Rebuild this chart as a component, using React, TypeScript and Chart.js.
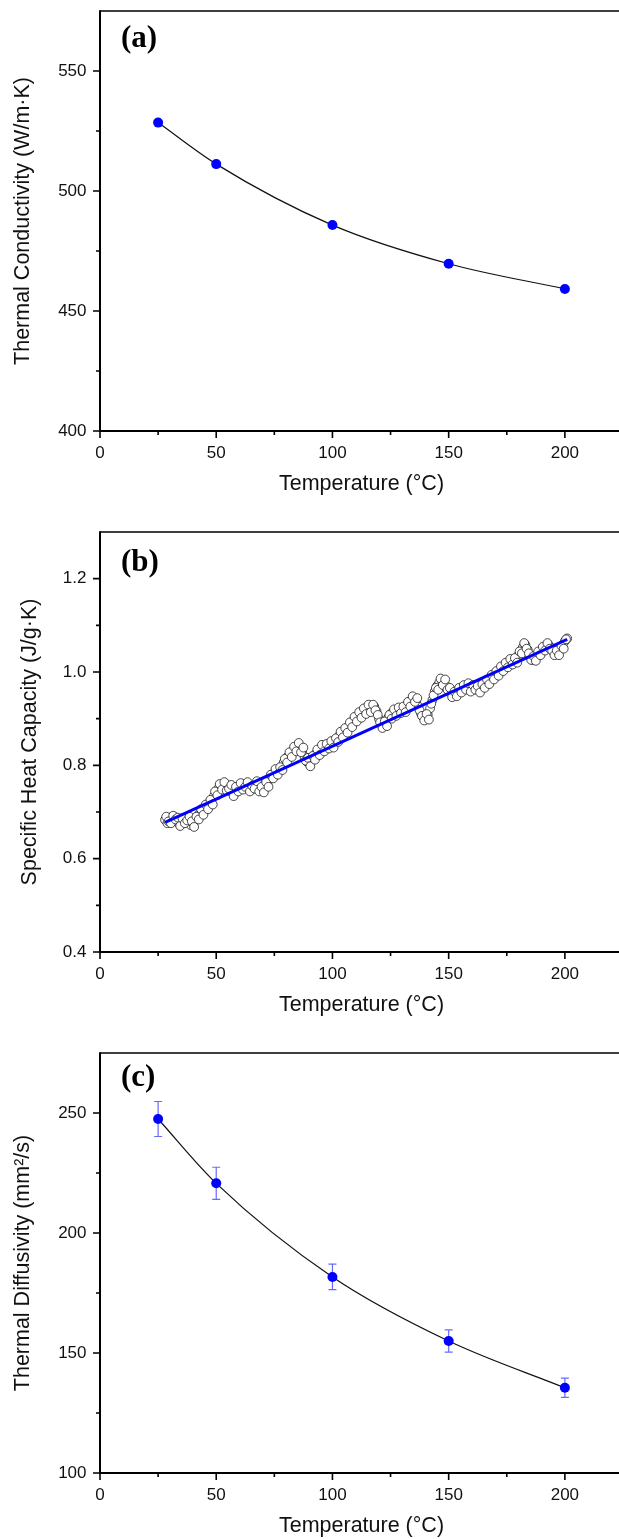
import React, { useEffect, useRef } from 'react';
import { Chart, registerables } from 'chart.js';

Chart.register(...registerables);

const FONT_SANS = '"Liberation Sans", Arial, sans-serif';
const FONT_SERIF = '"Liberation Serif", "Times New Roman", serif';

// ---- shared x axis ----
const xTitle = 'Temperature (°C)';
const xMajorTicks = [0, 50, 100, 150, 200];
const xMinorTicks = [25, 75, 125, 175];

// ---- panel (a): thermal conductivity ----
const tempA = [25, 50, 100, 150, 200];
const conductivity = [528.5, 511.2, 485.8, 469.7, 459.2];
const yMajorA = [400, 450, 500, 550];
const yMinorA = [425, 475, 525];

// ---- panel (b): specific heat capacity (measured points) ----
const tempB = [
  28, 29, 30, 31, 32, 33, 34, 35, 36, 37,
  38, 39, 40, 41, 42, 43, 44, 45, 46, 47,
  48, 49, 50, 51, 52, 53, 54, 55, 56, 57,
  58, 59, 60, 61, 62, 63, 64, 65, 66, 67,
  68, 69, 70, 71, 72, 73, 74, 75, 76, 77,
  78, 79, 80, 81, 82, 83, 84, 85, 86, 87,
  88, 89, 90, 91, 92, 93, 94, 95, 96, 97,
  98, 99, 100, 101, 102, 103, 104, 105, 106, 107,
  108, 109, 110, 111, 112, 113, 114, 115, 116, 117,
  118, 119, 120, 121, 122, 123, 124, 125, 126, 127,
  128, 129, 130, 131, 132, 133, 134, 135, 136, 137,
  138, 139, 140, 141, 142, 143, 144, 145, 146, 147,
  148, 149, 150, 151, 152, 153, 154, 155, 156, 157,
  158, 159, 160, 161, 162, 163, 164, 165, 166, 167,
  168, 169, 170, 171, 172, 173, 174, 175, 176, 177,
  178, 179, 180, 181, 182, 183, 184, 185, 186, 187,
  188, 189, 190, 191, 192, 193, 194, 195, 196, 197,
  198, 199, 200, 201,
];
const heatCapacity = [
  0.683, 0.676, 0.688, 0.684, 0.690, 0.680, 0.675, 0.678, 0.684, 0.689,
  0.679, 0.672, 0.676, 0.684, 0.692, 0.697, 0.701, 0.708, 0.714, 0.718,
  0.724, 0.734, 0.742, 0.751, 0.756, 0.758, 0.754, 0.757, 0.749, 0.740,
  0.745, 0.752, 0.756, 0.754, 0.760, 0.758, 0.752, 0.748, 0.756, 0.760,
  0.752, 0.746, 0.749, 0.756, 0.762, 0.772, 0.780, 0.784, 0.790, 0.788,
  0.796, 0.806, 0.814, 0.820, 0.826, 0.832, 0.838, 0.842, 0.836, 0.828,
  0.818, 0.808, 0.804, 0.812, 0.820, 0.826, 0.830, 0.836, 0.840, 0.836,
  0.842, 0.846, 0.843, 0.850, 0.858, 0.864, 0.868, 0.872, 0.878, 0.884,
  0.890, 0.896, 0.902, 0.906, 0.910, 0.914, 0.918, 0.922, 0.924, 0.920,
  0.926, 0.916, 0.900, 0.888, 0.884, 0.892, 0.902, 0.910, 0.914, 0.912,
  0.916, 0.920, 0.918, 0.922, 0.928, 0.934, 0.940, 0.944, 0.938, 0.926,
  0.912, 0.904, 0.900, 0.908, 0.922, 0.940, 0.958, 0.970, 0.978, 0.982,
  0.976, 0.970, 0.960, 0.954, 0.950, 0.956, 0.958, 0.962, 0.964, 0.970,
  0.968, 0.962, 0.966, 0.970, 0.964, 0.960, 0.966, 0.972, 0.976, 0.980,
  0.986, 0.990, 0.994, 0.998, 1.004, 1.008, 1.012, 1.016, 1.020, 1.024,
  1.022, 1.028, 1.036, 1.046, 1.054, 1.058, 1.048, 1.034, 1.026, 1.030,
  1.036, 1.040, 1.046, 1.052, 1.056, 1.058, 1.052, 1.044, 1.040, 1.042,
  1.050, 1.058, 1.066, 1.072,
];
const tempBHalf = [
  28.5, 29.5, 30.5, 31.5, 32.5, 33.5, 34.5, 35.5, 36.5, 37.5,
  38.5, 39.5, 40.5, 41.5, 42.5, 43.5, 44.5, 45.5, 46.5, 47.5,
  48.5, 49.5, 50.5, 51.5, 52.5, 53.5, 54.5, 55.5, 56.5, 57.5,
  58.5, 59.5, 60.5, 61.5, 62.5, 63.5, 64.5, 65.5, 66.5, 67.5,
  68.5, 69.5, 70.5, 71.5, 72.5, 73.5, 74.5, 75.5, 76.5, 77.5,
  78.5, 79.5, 80.5, 81.5, 82.5, 83.5, 84.5, 85.5, 86.5, 87.5,
  88.5, 89.5, 90.5, 91.5, 92.5, 93.5, 94.5, 95.5, 96.5, 97.5,
  98.5, 99.5, 100.5, 101.5, 102.5, 103.5, 104.5, 105.5, 106.5, 107.5,
  108.5, 109.5, 110.5, 111.5, 112.5, 113.5, 114.5, 115.5, 116.5, 117.5,
  118.5, 119.5, 120.5, 121.5, 122.5, 123.5, 124.5, 125.5, 126.5, 127.5,
  128.5, 129.5, 130.5, 131.5, 132.5, 133.5, 134.5, 135.5, 136.5, 137.5,
  138.5, 139.5, 140.5, 141.5, 142.5, 143.5, 144.5, 145.5, 146.5, 147.5,
  148.5, 149.5, 150.5, 151.5, 152.5, 153.5, 154.5, 155.5, 156.5, 157.5,
  158.5, 159.5, 160.5, 161.5, 162.5, 163.5, 164.5, 165.5, 166.5, 167.5,
  168.5, 169.5, 170.5, 171.5, 172.5, 173.5, 174.5, 175.5, 176.5, 177.5,
  178.5, 179.5, 180.5, 181.5, 182.5, 183.5, 184.5, 185.5, 186.5, 187.5,
  188.5, 189.5, 190.5, 191.5, 192.5, 193.5, 194.5, 195.5, 196.5, 197.5,
  198.5, 199.5, 200.5,
];
const heatCapacityHalf = [
  0.690, 0.680, 0.676, 0.692, 0.684, 0.688, 0.670, 0.686, 0.676, 0.682,
  0.690, 0.680, 0.668, 0.690, 0.684, 0.706, 0.694, 0.716, 0.706, 0.726,
  0.716, 0.744, 0.736, 0.760, 0.748, 0.764, 0.746, 0.750, 0.758, 0.734,
  0.754, 0.744, 0.762, 0.748, 0.754, 0.764, 0.744, 0.756, 0.750, 0.766,
  0.744, 0.754, 0.742, 0.764, 0.754, 0.780, 0.772, 0.792, 0.780, 0.796,
  0.790, 0.814, 0.806, 0.828, 0.818, 0.840, 0.830, 0.848, 0.828, 0.838,
  0.810, 0.816, 0.798, 0.820, 0.812, 0.834, 0.822, 0.844, 0.830, 0.846,
  0.836, 0.852, 0.838, 0.858, 0.850, 0.872, 0.860, 0.880, 0.870, 0.892,
  0.882, 0.904, 0.894, 0.914, 0.902, 0.922, 0.910, 0.930, 0.914, 0.930,
  0.918, 0.908, 0.892, 0.880, 0.894, 0.884, 0.908, 0.900, 0.920, 0.906,
  0.924, 0.912, 0.926, 0.914, 0.936, 0.926, 0.948, 0.936, 0.944, 0.918,
  0.906, 0.896, 0.910, 0.898, 0.932, 0.950, 0.966, 0.962, 0.986, 0.972,
  0.984, 0.962, 0.966, 0.946, 0.958, 0.948, 0.966, 0.956, 0.972, 0.962,
  0.976, 0.958, 0.972, 0.962, 0.970, 0.956, 0.974, 0.966, 0.984, 0.974,
  0.994, 0.984, 1.002, 0.992, 1.012, 1.002, 1.020, 1.010, 1.028, 1.016,
  1.030, 1.020, 1.044, 1.040, 1.062, 1.050, 1.040, 1.026, 1.034, 1.024,
  1.044, 1.036, 1.054, 1.046, 1.062, 1.050, 1.046, 1.036, 1.046, 1.036,
  1.056, 1.050, 1.070,
];
// linear fit line
const fitTempB = [28, 201];
const fitHeatCapacity = [0.678, 1.07];
const yMajorB = [0.4, 0.6, 0.8, 1.0, 1.2];
const yMinorB = [0.5, 0.7, 0.9, 1.1];

// ---- panel (c): thermal diffusivity ----
const tempC = [25, 50, 100, 150, 200];
const diffusivity = [247.5, 220.7, 181.7, 155.0, 135.5];
const diffusivityErr = [7.3, 6.7, 5.3, 4.6, 4.0];
const yMajorC = [100, 150, 200, 250];
const yMinorC = [125, 175, 225];

const CANVAS_W = 623;
const CANVAS_H = 521;

type PanelSpec = {
  label: string;
  labelY: number;
  yTitle: string;
  yTitlePad: number;
  yMin: number;
  yMax: number;
  yMajor: number[];
  yMinor: number[];
  yDecimals: number;
  datasets: any[];
  extraPlugins?: any[];
};

function buildConfig(p: PanelSpec): any {
  const framePlugin = {
    id: 'frame',
    afterDraw(chart: any) {
      const { ctx, chartArea, scales } = chart;
      const { left, right, top, bottom } = chartArea;
      const xs = scales.x;
      const ys = scales.y;
      ctx.save();
      ctx.strokeStyle = '#000';
      ctx.lineCap = 'butt';
      ctx.lineWidth = 1.4;
      ctx.beginPath();
      ctx.moveTo(left, top);
      ctx.lineTo(right, top);
      ctx.moveTo(right - 0.7, top);
      ctx.lineTo(right - 0.7, bottom);
      ctx.stroke();
      ctx.lineWidth = 2;
      ctx.beginPath();
      ctx.moveTo(left, top - 0.7);
      ctx.lineTo(left, bottom + 1);
      ctx.moveTo(left - 1, bottom);
      ctx.lineTo(right, bottom);
      ctx.stroke();
      ctx.lineWidth = 1.6;
      ctx.beginPath();
      xMajorTicks.forEach((v) => {
        const px = xs.getPixelForValue(v);
        ctx.moveTo(px, bottom);
        ctx.lineTo(px, bottom + 7);
      });
      xMinorTicks.forEach((v) => {
        const px = xs.getPixelForValue(v);
        ctx.moveTo(px, bottom);
        ctx.lineTo(px, bottom + 4);
      });
      p.yMajor.forEach((v) => {
        const py = ys.getPixelForValue(v);
        ctx.moveTo(left, py);
        ctx.lineTo(left - 7, py);
      });
      p.yMinor.forEach((v) => {
        const py = ys.getPixelForValue(v);
        ctx.moveTo(left, py);
        ctx.lineTo(left - 4, py);
      });
      ctx.stroke();
      ctx.fillStyle = '#000';
      ctx.font = `bold 31px ${FONT_SERIF}`;
      ctx.textAlign = 'left';
      ctx.textBaseline = 'alphabetic';
      ctx.fillText(p.label, 121, p.labelY);
      ctx.restore();
    },
  };

  return {
    type: 'scatter',
    data: { datasets: p.datasets },
    options: {
      responsive: false,
      animation: false,
      devicePixelRatio: 1,
      events: [],
      layout: { autoPadding: false, padding: { top: 11, left: 0, right: 0, bottom: 0 } },
      plugins: { legend: { display: false }, tooltip: { enabled: false } },
      scales: {
        x: {
          type: 'linear',
          position: 'bottom',
          min: 0,
          max: 225,
          afterBuildTicks: (s: any) => {
            s.ticks = xMajorTicks.map((v) => ({ value: v }));
          },
          afterFit: (s: any) => {
            s.height = 90;
            s.paddingLeft = 0;
            s.paddingRight = 0;
            s.paddingTop = 0;
            s.paddingBottom = 0;
          },
          grid: { display: false, drawTicks: false },
          border: { display: false },
          ticks: {
            font: { family: FONT_SANS, size: 17 },
            color: '#111',
            padding: 12,
            maxRotation: 0,
            autoSkip: false,
            callback: (v: any) => String(v),
          },
          title: {
            display: true,
            text: xTitle,
            font: { family: FONT_SANS, size: 21.5 },
            color: '#111',
            padding: { top: 0, bottom: 24 },
          },
        },
        y: {
          type: 'linear',
          position: 'left',
          min: p.yMin,
          max: p.yMax,
          afterBuildTicks: (s: any) => {
            s.ticks = p.yMajor.map((v) => ({ value: v }));
          },
          afterFit: (s: any) => {
            s.width = 100;
            s.paddingLeft = 0;
            s.paddingRight = 0;
            s.paddingTop = 0;
            s.paddingBottom = 0;
          },
          grid: { display: false, drawTicks: false },
          border: { display: false },
          ticks: {
            font: { family: FONT_SANS, size: 17 },
            color: '#111',
            padding: 13.5,
            autoSkip: false,
            callback: (v: any) => Number(v).toFixed(p.yDecimals),
          },
          title: {
            display: true,
            text: p.yTitle,
            font: { family: FONT_SANS, size: 21.5 },
            color: '#111',
            padding: { top: p.yTitlePad, bottom: 0 },
          },
        },
      },
    },
    plugins: [framePlugin, ...(p.extraPlugins || [])],
  };
}

const errorBarPlugin = {
  id: 'errorBars',
  beforeDatasetsDraw(chart: any) {
    const { ctx, scales } = chart;
    const xs = scales.x;
    const ys = scales.y;
    ctx.save();
    ctx.strokeStyle = 'rgba(40,40,255,0.7)';
    ctx.lineWidth = 1.2;
    ctx.beginPath();
    tempC.forEach((t, i) => {
      const px = xs.getPixelForValue(t);
      const yt = ys.getPixelForValue(diffusivity[i] + diffusivityErr[i]);
      const yb = ys.getPixelForValue(diffusivity[i] - diffusivityErr[i]);
      ctx.moveTo(px, yt);
      ctx.lineTo(px, yb);
      ctx.moveTo(px - 4, yt);
      ctx.lineTo(px + 4, yt);
      ctx.moveTo(px - 4, yb);
      ctx.lineTo(px + 4, yb);
    });
    ctx.stroke();
    ctx.restore();
  },
};

const circleStyle = {
  showLine: false,
  pointRadius: 4.4,
  pointBackgroundColor: '#ffffff',
  pointBorderColor: '#1a1a1a',
  pointBorderWidth: 0.8,
};

const specA: PanelSpec = {
  label: '(a)',
  labelY: 47,
  yTitle: 'Thermal Conductivity (W/m·K)',
  yTitlePad: 10,
  yMin: 400,
  yMax: 575,
  yMajor: yMajorA,
  yMinor: yMinorA,
  yDecimals: 0,
  datasets: [
    {
      data: tempA.map((t, i) => ({ x: t, y: conductivity[i] })),
      showLine: true,
      cubicInterpolationMode: 'monotone',
      borderColor: '#111',
      borderWidth: 1.2,
      pointRadius: 5,
      pointBackgroundColor: '#0000ff',
      pointBorderColor: '#0000ff',
      pointBorderWidth: 0,
    },
  ],
};

const specB: PanelSpec = {
  label: '(b)',
  labelY: 50,
  yTitle: 'Specific Heat Capacity (J/g·K)',
  yTitlePad: 17,
  yMin: 0.4,
  yMax: 1.3,
  yMajor: yMajorB,
  yMinor: yMinorB,
  yDecimals: 1,
  datasets: [
    {
      data: fitTempB.map((t, i) => ({ x: t, y: fitHeatCapacity[i] })),
      showLine: true,
      borderColor: '#0000ff',
      borderWidth: 3,
      pointRadius: 0,
      order: 0,
    },
    {
      ...circleStyle,
      data: tempBHalf.map((t, i) => ({ x: t, y: heatCapacityHalf[i] })),
      order: 1,
    },
    {
      ...circleStyle,
      data: tempB.map((t, i) => ({ x: t, y: heatCapacity[i] })),
      order: 2,
    },
  ],
};

const specC: PanelSpec = {
  label: '(c)',
  labelY: 44,
  yTitle: 'Thermal Diffusivity (mm²/s)',
  yTitlePad: 10,
  yMin: 100,
  yMax: 275,
  yMajor: yMajorC,
  yMinor: yMinorC,
  yDecimals: 0,
  datasets: [
    {
      data: tempC.map((t, i) => ({ x: t, y: diffusivity[i] })),
      showLine: true,
      cubicInterpolationMode: 'monotone',
      borderColor: '#111',
      borderWidth: 1.2,
      pointRadius: 5,
      pointBackgroundColor: '#0000ff',
      pointBorderColor: '#0000ff',
      pointBorderWidth: 0,
    },
  ],
  extraPlugins: [errorBarPlugin],
};

function Panel({ spec, top }: { spec: PanelSpec; top: number }) {
  const ref = useRef<HTMLCanvasElement>(null);
  useEffect(() => {
    const chart = new Chart(ref.current as HTMLCanvasElement, buildConfig(spec));
    return () => chart.destroy();
  }, [spec]);
  return (
    <canvas
      ref={ref}
      width={CANVAS_W}
      height={CANVAS_H}
      style={{ position: 'absolute', left: 0, top, width: CANVAS_W, height: CANVAS_H }}
    />
  );
}

export default function App() {
  return (
    <div
      style={{
        position: 'absolute',
        left: 0,
        top: 0,
        width: 619,
        height: 1539,
        overflow: 'hidden',
        background: '#ffffff',
      }}
    >
      <Panel spec={specA} top={0} />
      <Panel spec={specB} top={521} />
      <Panel spec={specC} top={1042} />
    </div>
  );
}
